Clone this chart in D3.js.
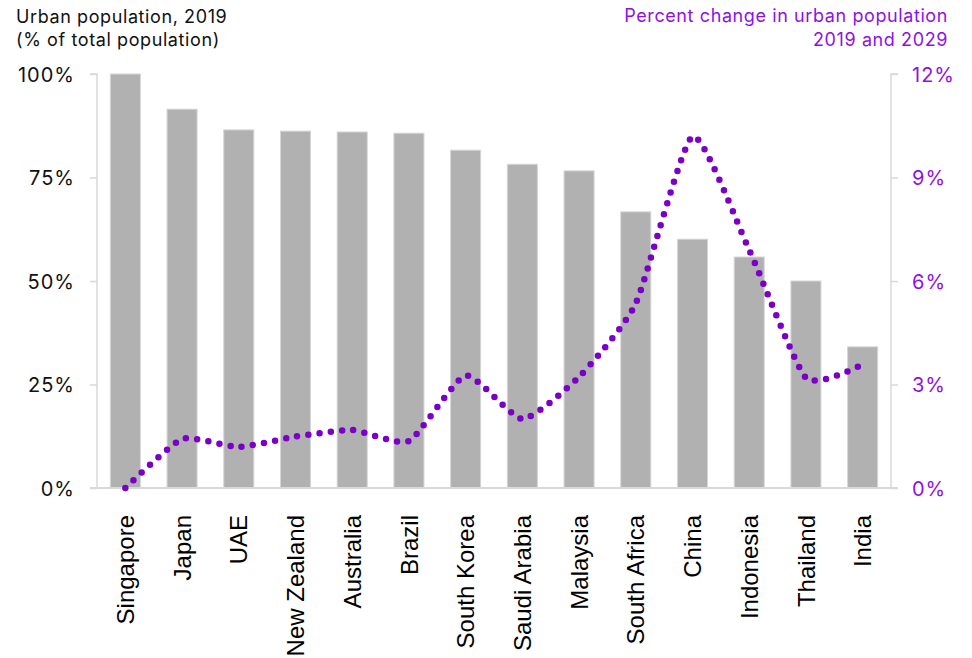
<!DOCTYPE html>
<html>
<head>
<meta charset="utf-8">
<script src="https://cdn.jsdelivr.net/npm/d3@7"></script>
<style>
  html, body { margin: 0; padding: 0; background: #fff; }
  svg { display: block; }
  .tick-label { font-family: Inter, "Open Sans", sans-serif; font-size: 20px; letter-spacing: 1px; }
  .title { font-family: Inter, "Open Sans", sans-serif; font-size: 18px; letter-spacing: 0.6px; }
  .cat { font-family: "Liberation Sans", Arial, sans-serif; font-size: 24px; fill: #000; }
</style>
</head>
<body>
<svg id="chart" width="972" height="658"></svg>
<script>
// Countries ordered by urban share
const countries = ["Singapore", "Japan", "UAE", "New Zealand", "Australia", "Brazil",
  "South Korea", "Saudi Arabia", "Malaysia", "South Africa", "China", "Indonesia",
  "Thailand", "India"];

// Urban population, 2019 (% of total population)
const urbanShare2019 = [100, 91.5, 86.5, 86.2, 86.0, 85.7, 81.6, 78.2, 76.6, 66.7, 60.1, 55.8, 50.0, 34.1];

// Percent change in urban population, 2019 and 2029
const urbanChange = [0.0, 1.42, 1.19, 1.49, 1.68, 1.36, 3.26, 2.0, 3.22, 5.35, 10.19, 6.9, 3.19, 3.58];

const leftTicks = [0, 25, 50, 75, 100];
const rightTicks = [0, 3, 6, 9, 12];

const svg = d3.select("#chart");
const axisColor = "#d9d9d9";
const purple = "#7a00c8";
const textPurple = "#8f10e6";

const x = d3.scaleBand()
  .domain(countries)
  .range([97, 891])
  .paddingInner(0.47)
  .paddingOuter(0.235);

const yLeft = d3.scaleLinear().domain([0, 100]).range([488, 74]);
const yRight = d3.scaleLinear().domain([0, 12]).range([488, 74]);

// Bars
svg.append("g")
  .selectAll("rect")
  .data(countries)
  .join("rect")
  .attr("x", d => x(d))
  .attr("width", x.bandwidth())
  .attr("y", (d, i) => yLeft(urbanShare2019[i]))
  .attr("height", (d, i) => yLeft(0) - yLeft(urbanShare2019[i]))
  .attr("fill", "#b1b1b1")
  .attr("stroke", "#d6d6d6")
  .attr("stroke-width", 1);

// Left axis
const gLeft = svg.append("g")
  .attr("transform", "translate(97,0)")
  .call(d3.axisLeft(yLeft).tickValues(leftTicks).tickSize(7).tickFormat(d => d + "%"));
gLeft.select(".domain").attr("stroke", axisColor).attr("stroke-width", 1.5)
  .attr("d", `M-7,${yLeft(100)}H0V${yLeft(0)}`);
gLeft.selectAll(".tick line").attr("stroke", axisColor).attr("stroke-width", 1.5);
gLeft.selectAll(".tick text")
  .attr("class", "tick-label")
  .attr("x", -22)
  .attr("dy", "0.36em")
  .attr("fill", "#111")
  .attr("font-size", null)
  .attr("font-family", null);

// Right axis
const gRight = svg.append("g")
  .attr("transform", "translate(891,0)")
  .call(d3.axisRight(yRight).tickValues(rightTicks).tickSize(7).tickFormat(d => d + "%"));
gRight.select(".domain").attr("stroke", axisColor).attr("stroke-width", 1.5)
  .attr("d", `M7,${yRight(12)}H0V${yRight(0)}`);
gRight.selectAll(".tick line").attr("stroke", axisColor).attr("stroke-width", 1.5);
gRight.selectAll(".tick text")
  .attr("class", "tick-label")
  .attr("x", 21)
  .attr("dy", "0.36em")
  .attr("fill", textPurple)
  .attr("font-size", null)
  .attr("font-family", null);

// Baseline
svg.append("line")
  .attr("x1", 90).attr("x2", 898)
  .attr("y1", yLeft(0)).attr("y2", yLeft(0))
  .attr("stroke", axisColor).attr("stroke-width", 2);

// Category labels, rotated
svg.append("g")
  .selectAll("text")
  .data(countries)
  .join("text")
  .attr("class", "cat")
  .attr("transform", d => `translate(${x(d) + x.bandwidth() / 2},515) rotate(-90)`)
  .attr("text-anchor", "end")
  .attr("dy", "0.36em")
  .text(d => d);

// Dotted smoothed line for percent change
const line = d3.line()
  .x((d, i) => x(countries[i]) + x.bandwidth() / 2)
  .y(d => yRight(d))
  .curve(d3.curveCardinal.tension(0.45));

svg.append("path")
  .datum(urbanChange)
  .attr("d", line)
  .attr("fill", "none")
  .attr("stroke", purple)
  .attr("stroke-width", 6.5)
  .attr("stroke-linecap", "round")
  .attr("stroke-dasharray", "0 11.3");

// Titles
const leftTitle = svg.append("text").attr("class", "title").attr("fill", "#111");
leftTitle.append("tspan").attr("x", 16).attr("y", 23).text("Urban population, 2019");
leftTitle.append("tspan").attr("x", 16).attr("y", 46).text("(% of total population)");

const rightTitle = svg.append("text").attr("class", "title").attr("fill", textPurple)
  .attr("text-anchor", "end");
rightTitle.append("tspan").attr("x", 948).attr("y", 22).text("Percent change in urban population");
rightTitle.append("tspan").attr("x", 948).attr("y", 46).text("2019 and 2029");
</script>
</body>
</html>
